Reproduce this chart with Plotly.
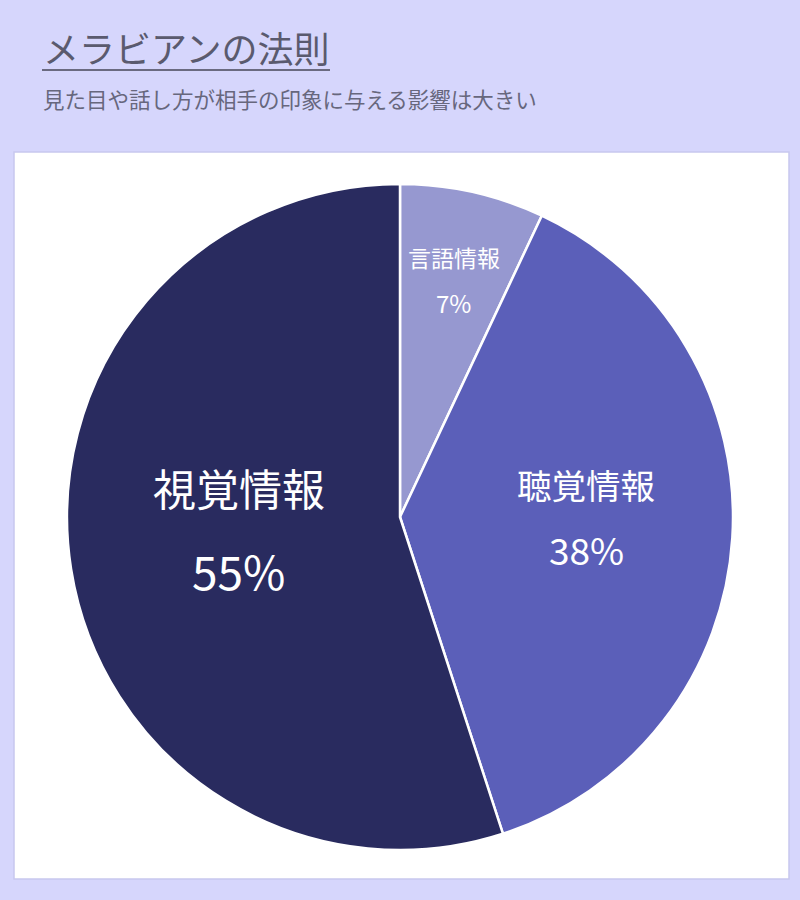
import math
import plotly.graph_objects as go

# ---- data ----
labels = ["言語情報", "聴覚情報", "視覚情報"]
values = [7, 38, 55]
title_text = "メラビアンの法則"
subtitle_text = "見た目や話し方が相手の印象に与える影響は大きい"

# ---- styles ----
colors = ["#9698d0", "#5b5fb9", "#292b5f"]
label_sizes = [23, 34.5, 43]
pct_sizes = [24, 37, 46]
radial_frac = [0.74, 0.56, 0.49]
line_gap = [45, 65, 83]
y_adjust = [3, -12, -14]
FONT = "Noto Sans CJK JP"
BG = "#d6d6fc"
W, H = 800, 900
CX, CY, R = 400, 517, 333

fig = go.Figure()
fig.add_trace(go.Pie(
    labels=labels, values=values, sort=False, direction="clockwise", rotation=0,
    marker=dict(colors=colors, line=dict(color="white", width=2.5)),
    textinfo="none", hoverinfo="label+percent", showlegend=False,
    domain=dict(x=[(CX - R) / W, (CX + R) / W], y=[1 - (CY + R) / H, 1 - (CY - R) / H]),
))

total = sum(values)
cum = 0
annotations = []
for i, (lab, v) in enumerate(zip(labels, values)):
    mid = (cum + v / 2) / total * 2 * math.pi
    cum += v
    r = radial_frac[i] * R
    px = CX + r * math.sin(mid)
    py = CY - r * math.cos(mid) + y_adjust[i]
    xp, yp = px / W, 1 - py / H
    annotations.append(dict(x=xp, y=yp, xref="paper", yref="paper", text=lab, showarrow=False,
                            yshift=line_gap[i] / 2, xanchor="center", yanchor="middle",
                            font=dict(family=FONT, size=label_sizes[i], color="white")))
    annotations.append(dict(x=xp, y=yp, xref="paper", yref="paper",
                            text=f"{round(v / total * 100)}%", showarrow=False,
                            yshift=-line_gap[i] / 2, xanchor="center", yanchor="middle",
                            font=dict(family=FONT, size=pct_sizes[i], color="white")))

annotations.append(dict(x=41 / W, y=1 - 47 / H, xref="paper", yref="paper", text=title_text,
                        showarrow=False, xanchor="left", yanchor="middle",
                        font=dict(family=FONT, size=36, color="#5a5a6e")))
annotations.append(dict(x=41 / W, y=1 - 98 / H, xref="paper", yref="paper", text=subtitle_text,
                        showarrow=False, xanchor="left", yanchor="middle",
                        font=dict(family=FONT, size=21.5, color="#67677d")))

shapes = [
    dict(type="rect", xref="paper", yref="paper", x0=14 / W, x1=789 / W, y0=1 - 879 / H, y1=1 - 152 / H,
         fillcolor="white", line=dict(color="#c8c8ee", width=1.5), layer="below"),
    dict(type="line", xref="paper", yref="paper", x0=42 / W, x1=330 / W, y0=1 - 70 / H, y1=1 - 70 / H,
         line=dict(color="#6a6a80", width=2)),
]

fig.update_layout(
    width=W, height=H, margin=dict(l=0, r=0, t=0, b=0),
    paper_bgcolor=BG, plot_bgcolor=BG,
    annotations=annotations, shapes=shapes,
    font=dict(family=FONT),
)
fig.write_html("out.html", config={"displayModeBar": False},
               post_script="document.body.style.margin='0';document.body.style.padding='0';"
                           "document.body.style.background='" + BG + "';"
                           "document.body.style.overflow='hidden';")
